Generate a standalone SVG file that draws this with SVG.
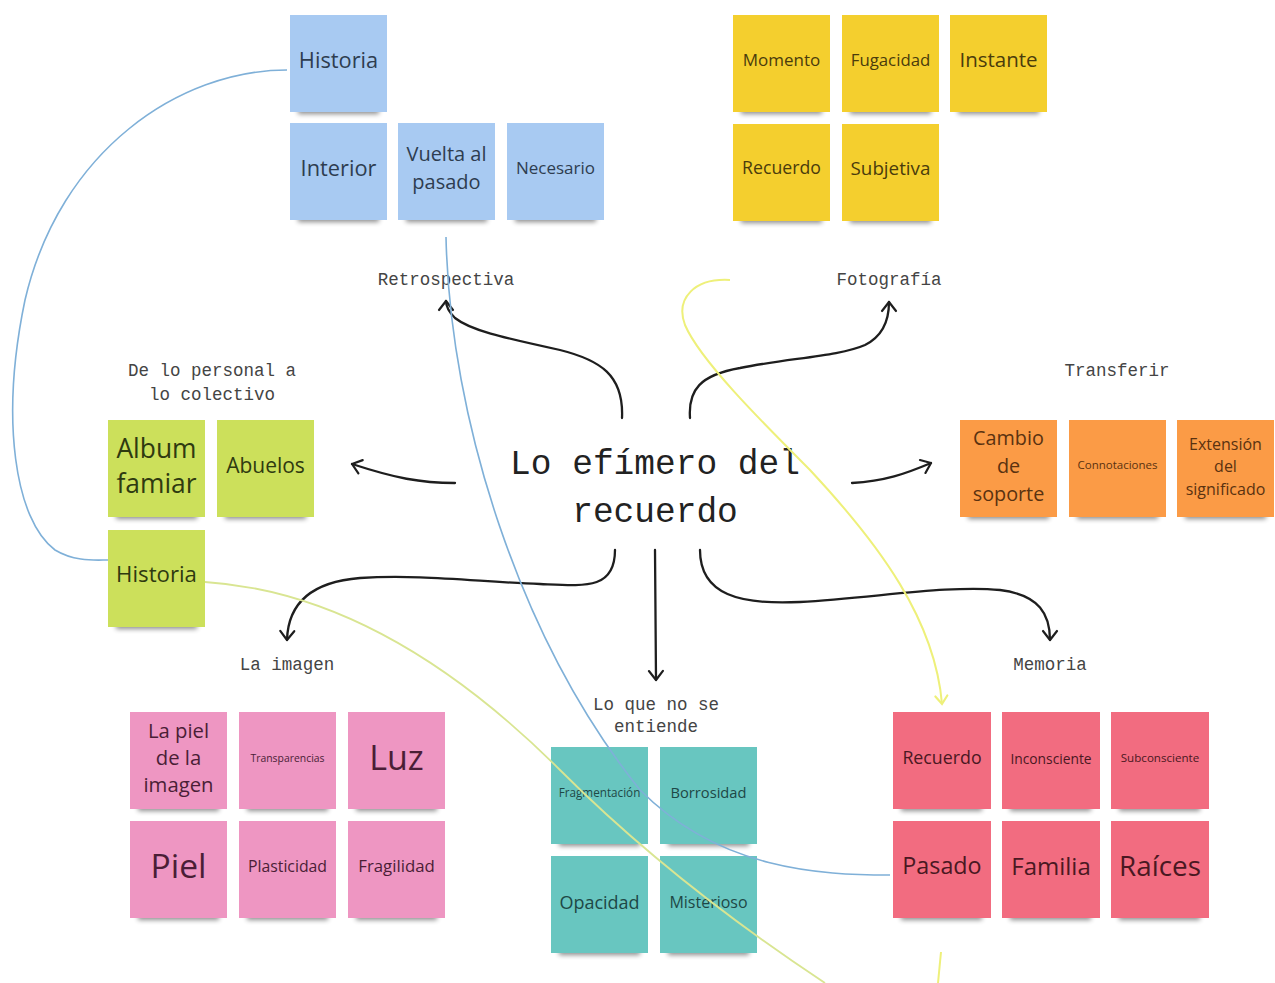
<svg xmlns="http://www.w3.org/2000/svg" width="1275" height="983" viewBox="0 0 1275 983">
<style>
.bg{fill:#ffffff}
.st text{font-family:"Open Sans","Noto Sans","Liberation Sans",sans-serif;text-anchor:middle}
.sh{fill:#000;opacity:.45;filter:url(#blur)}
.blue rect.n{fill:#a8caf2}.blue text{fill:#2e3d50}
.yel rect.n{fill:#f4cf2e}.yel text{fill:#4a3c0c}
.ora rect.n{fill:#fb9b46}.ora text{fill:#5a3210}
.grn rect.n{fill:#cce05b}.grn text{fill:#2f3a10}
.pnk rect.n{fill:#ee96c2}.pnk text{fill:#4a1e36}
.tea rect.n{fill:#68c6c0}.tea text{fill:#1e4846}
.red rect.n{fill:#f26c80}.red text{fill:#4a1822}
.lbl{font-family:"Liberation Mono","DejaVu Sans Mono",monospace;font-size:17.5px;fill:#444;text-anchor:middle}
.title{font-family:"Liberation Mono","DejaVu Sans Mono",monospace;font-size:34.5px;fill:#222;text-anchor:middle}
.arr{fill:none;stroke:#1e1e1e;stroke-width:2.3;stroke-linecap:round;marker-end:url(#ah)}
.cb{fill:none;stroke:#7fb0d8;stroke-width:1.6}
.cy{fill:none;stroke:#eef07a;stroke-width:2}
.cg{fill:none;stroke:#d9e592;stroke-width:1.8}
</style>
<defs>
<filter id="blur" x="-20%" y="-100%" width="140%" height="300%"><feGaussianBlur stdDeviation="2.5"/></filter>
<marker id="ah" markerUnits="userSpaceOnUse" markerWidth="24" markerHeight="24" viewBox="-12 -12 24 24" refX="0" refY="0" orient="auto"><path d="M-9,-7 L0,0 L-9,7" fill="none" stroke="#1e1e1e" stroke-width="2.2" stroke-linecap="round" stroke-linejoin="round"/></marker>
<marker id="ahy" markerUnits="userSpaceOnUse" markerWidth="24" markerHeight="24" viewBox="-12 -12 24 24" refX="0" refY="0" orient="auto"><path d="M-8,-6 L0,0 L-8,6" fill="none" stroke="#eef07a" stroke-width="2.2" stroke-linecap="round"/></marker>
</defs>
<rect class="bg" x="0" y="0" width="1275" height="983"/>

<!-- Blue stickies -->
<g id="blue-historia" class="st blue" transform="translate(290,15)"><rect class="sh" x="8" y="91" width="81" height="8"/><rect class="n" width="97" height="97"/><text x="48.5" y="52.8" font-size="21.8">Historia</text></g>
<g id="blue-interior" class="st blue" transform="translate(290,123)"><rect class="sh" x="8" y="91" width="81" height="8"/><rect class="n" width="97" height="97"/><text x="48.5" y="52.8" font-size="21.8">Interior</text></g>
<g id="blue-vuelta" class="st blue" transform="translate(398,123)"><rect class="sh" x="8" y="91" width="81" height="8"/><rect class="n" width="97" height="97"/><text x="48.5" y="38.2" font-size="20">Vuelta al</text><text x="48.5" y="66.2" font-size="20">pasado</text></g>
<g id="blue-necesario" class="st blue" transform="translate(507,123)"><rect class="sh" x="8" y="91" width="81" height="8"/><rect class="n" width="97" height="97"/><text x="48.5" y="51" font-size="17">Necesario</text></g>

<!-- Yellow stickies -->
<g id="y-momento" class="st yel" transform="translate(733,15)"><rect class="sh" x="8" y="91" width="81" height="8"/><rect class="n" width="97" height="97"/><text x="48.5" y="51" font-size="17">Momento</text></g>
<g id="y-fugacidad" class="st yel" transform="translate(842,15)"><rect class="sh" x="8" y="91" width="81" height="8"/><rect class="n" width="97" height="97"/><text x="48.5" y="51" font-size="16.8">Fugacidad</text></g>
<g id="y-instante" class="st yel" transform="translate(950,15)"><rect class="sh" x="8" y="91" width="81" height="8"/><rect class="n" width="97" height="97"/><text x="48.5" y="52.4" font-size="20.5">Instante</text></g>
<g id="y-recuerdo" class="st yel" transform="translate(733,124)"><rect class="sh" x="8" y="91" width="81" height="8"/><rect class="n" width="97" height="97"/><text x="48.5" y="50.4" font-size="17.7">Recuerdo</text></g>
<g id="y-subjetiva" class="st yel" transform="translate(842,124)"><rect class="sh" x="8" y="91" width="81" height="8"/><rect class="n" width="97" height="97"/><text x="48.5" y="50.8" font-size="18.8">Subjetiva</text></g>

<!-- Orange stickies -->
<g id="o-cambio" class="st ora" transform="translate(960,420)"><rect class="sh" x="8" y="91" width="81" height="8"/><rect class="n" width="97" height="97"/><text x="48.5" y="25" font-size="19.8">Cambio</text><text x="48.5" y="53" font-size="19.8">de</text><text x="48.5" y="81" font-size="19.8">soporte</text></g>
<g id="o-connot" class="st ora" transform="translate(1069,420)"><rect class="sh" x="8" y="91" width="81" height="8"/><rect class="n" width="97" height="97"/><text x="48.5" y="49" font-size="11.5">Connotaciones</text></g>
<g id="o-extension" class="st ora" transform="translate(1177,420)"><rect class="sh" x="8" y="91" width="81" height="8"/><rect class="n" width="97" height="97"/><text x="48.5" y="29.8" font-size="16">Extensión</text><text x="48.5" y="51.8" font-size="16">del</text><text x="48.5" y="74.8" font-size="16">significado</text></g>

<!-- Green stickies -->
<g id="g-album" class="st grn" transform="translate(108,420)"><rect class="sh" x="8" y="91" width="81" height="8"/><rect class="n" width="97" height="97"/><text x="48.5" y="37.5" font-size="26.4">Album</text><text x="48.5" y="72.5" font-size="26.4">famiar</text></g>
<g id="g-abuelos" class="st grn" transform="translate(217,420)"><rect class="sh" x="8" y="91" width="81" height="8"/><rect class="n" width="97" height="97"/><text x="48.5" y="52.6" font-size="21">Abuelos</text></g>
<g id="g-historia" class="st grn" transform="translate(108,530)"><rect class="sh" x="8" y="91" width="81" height="8"/><rect class="n" width="97" height="97"/><text x="48.5" y="52" font-size="22.2">Historia</text></g>

<!-- Pink stickies -->
<g id="p-piel-imagen" class="st pnk" transform="translate(130,712)"><rect class="sh" x="8" y="91" width="81" height="8"/><rect class="n" width="97" height="97"/><text x="48.5" y="26.3" font-size="20.3">La piel</text><text x="48.5" y="53.3" font-size="20.3">de la</text><text x="48.5" y="80.3" font-size="20.3">imagen</text></g>
<g id="p-transp" class="st pnk" transform="translate(239,712)"><rect class="sh" x="8" y="91" width="81" height="8"/><rect class="n" width="97" height="97"/><text x="48.5" y="49.7" font-size="10.4">Transparencias</text></g>
<g id="p-luz" class="st pnk" transform="translate(348,712)"><rect class="sh" x="8" y="91" width="81" height="8"/><rect class="n" width="97" height="97"/><text x="48.5" y="58.2" font-size="34">Luz</text></g>
<g id="p-piel" class="st pnk" transform="translate(130,821)"><rect class="sh" x="8" y="91" width="81" height="8"/><rect class="n" width="97" height="97"/><text x="48.5" y="57.1" font-size="33.6">Piel</text></g>
<g id="p-plast" class="st pnk" transform="translate(239,821)"><rect class="sh" x="8" y="91" width="81" height="8"/><rect class="n" width="97" height="97"/><text x="48.5" y="50.7" font-size="15.8">Plasticidad</text></g>
<g id="p-frag" class="st pnk" transform="translate(348,821)"><rect class="sh" x="8" y="91" width="81" height="8"/><rect class="n" width="97" height="97"/><text x="48.5" y="51" font-size="16.8">Fragilidad</text></g>

<!-- Teal stickies -->
<g id="t-fragm" class="st tea" transform="translate(551,747)"><rect class="sh" x="8" y="91" width="81" height="8"/><rect class="n" width="97" height="97"/><text x="48.5" y="50.2" font-size="11.7">Fragmentación</text></g>
<g id="t-borr" class="st tea" transform="translate(660,747)"><rect class="sh" x="8" y="91" width="81" height="8"/><rect class="n" width="97" height="97"/><text x="48.5" y="51.3" font-size="14.7">Borrosidad</text></g>
<g id="t-opac" class="st tea" transform="translate(551,856)"><rect class="sh" x="8" y="91" width="81" height="8"/><rect class="n" width="97" height="97"/><text x="48.5" y="52.5" font-size="18">Opacidad</text></g>
<g id="t-mist" class="st tea" transform="translate(660,856)"><rect class="sh" x="8" y="91" width="81" height="8"/><rect class="n" width="97" height="97"/><text x="48.5" y="51.8" font-size="16">Misterioso</text></g>

<!-- Red stickies -->
<g id="r-recuerdo" class="st red" transform="translate(893,712)"><rect class="sh" x="8" y="91" width="81" height="8"/><rect class="n" width="98" height="97"/><text x="49" y="52.4" font-size="17.8">Recuerdo</text></g>
<g id="r-incons" class="st red" transform="translate(1002,712)"><rect class="sh" x="8" y="91" width="81" height="8"/><rect class="n" width="98" height="97"/><text x="49" y="52" font-size="13.8">Inconsciente</text></g>
<g id="r-subcons" class="st red" transform="translate(1111,712)"><rect class="sh" x="8" y="91" width="81" height="8"/><rect class="n" width="98" height="97"/><text x="49" y="50.2" font-size="11.6">Subconsciente</text></g>
<g id="r-pasado" class="st red" transform="translate(893,821)"><rect class="sh" x="8" y="91" width="81" height="8"/><rect class="n" width="98" height="97"/><text x="49" y="53.4" font-size="23.3">Pasado</text></g>
<g id="r-familia" class="st red" transform="translate(1002,821)"><rect class="sh" x="8" y="91" width="81" height="8"/><rect class="n" width="98" height="97"/><text x="49" y="53.6" font-size="24">Familia</text></g>
<g id="r-raices" class="st red" transform="translate(1111,821)"><rect class="sh" x="8" y="91" width="81" height="8"/><rect class="n" width="98" height="97"/><text x="49" y="55" font-size="27.8">Raíces</text></g>

<!-- Center and labels -->
<g id="center">
<text class="title" x="655" y="474">Lo efímero del</text>
<text class="title" x="655" y="522">recuerdo</text>
</g>
<g id="labels">
<text class="lbl" x="446" y="285">Retrospectiva</text>
<text class="lbl" x="889" y="285">Fotografía</text>
<text class="lbl" x="212" y="376">De lo personal a</text>
<text class="lbl" x="212" y="400">lo colectivo</text>
<text class="lbl" x="1117" y="376">Transferir</text>
<text class="lbl" x="287" y="670">La imagen</text>
<text class="lbl" x="656" y="710">Lo que no se</text>
<text class="lbl" x="656" y="732">entiende</text>
<text class="lbl" x="1050" y="670">Memoria</text>
</g>

<!-- Connectors -->
<g id="connectors">
<path class="arr" d="M622,418 C624,375 600,360 560,350 C500,337 470,330 455,318 C447,310 446,305 446,301"/>
<path class="arr" d="M690,418 C688,390 700,375 740,368 C790,358 840,356 865,345 C885,335 889,318 889,302"/>
<path class="arr" d="M455,483 C420,483 395,478 352,464"/>
<path class="arr" d="M852,483 C885,481 905,474 931,463"/>
<path class="arr" d="M615,550 C615,590 585,586 540,584 C480,582 420,574 360,578 C310,582 288,605 287,640"/>
<path class="arr" d="M655,550 L656,680"/>
<path class="arr" d="M700,550 C700,595 740,605 800,602 C880,597 950,585 1000,590 C1040,595 1050,615 1050,640"/>

<path class="cb" d="M287,70 C180,70 60,150 25,300 C0,420 15,520 55,550 C75,562 95,560 108,560"/>
<path class="cb" d="M446,237 C450,420 520,640 640,790 C720,870 820,875 890,875"/>
<path class="cy" marker-end="url(#ahy)" d="M730,280 C695,278 675,298 685,325 C700,360 760,420 810,470 C880,545 935,620 942,704"/>
<path class="cy" d="M941,952 L938,983"/>
<path class="cg" d="M205,582 C330,590 450,660 560,770 C660,870 760,940 825,983"/>
</g>
</svg>
